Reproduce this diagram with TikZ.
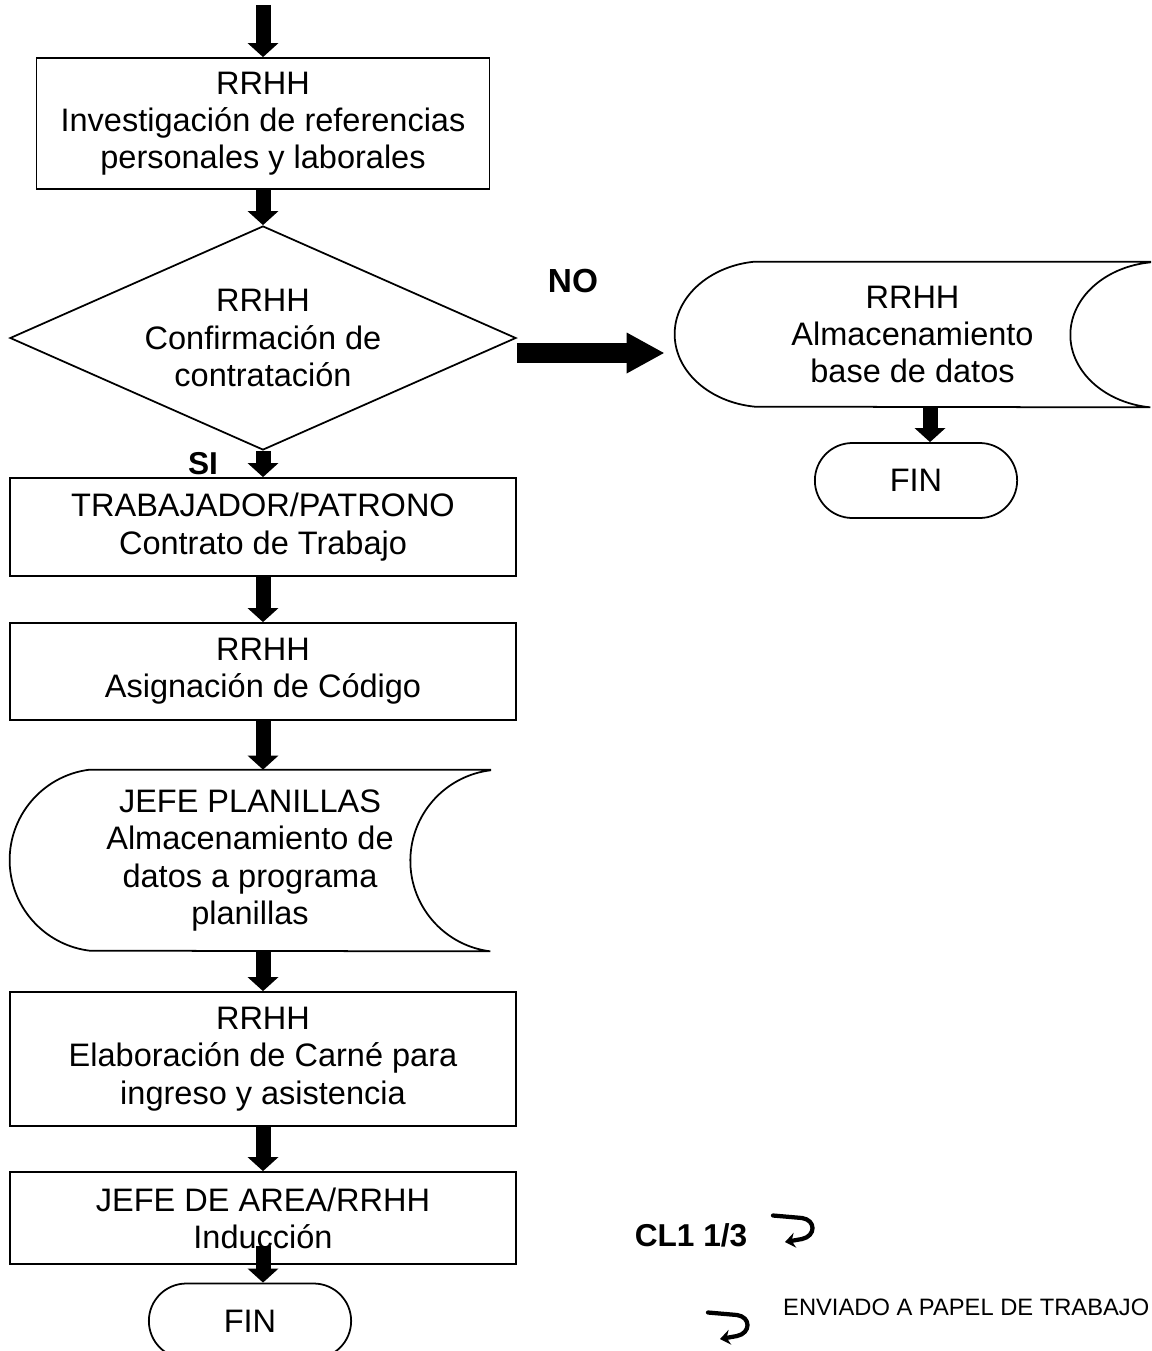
\documentclass[tikz,border=0pt]{standalone}
\usepackage{fontspec}
\setmainfont{Liberation Sans}
\usetikzlibrary{shapes.geometric,shapes.misc,arrows.meta,positioning,calc}

\tikzset{
  process/.style={draw, line width=1pt, align=center, minimum width=10.12cm, inner sep=0pt},
  decision/.style={draw, diamond, line width=1pt, aspect=2.26, align=center, inner sep=0pt,
    minimum width=10.12cm, minimum height=4.48cm},
  storage/.style={align=center, inner sep=0pt},
  terminal/.style={draw, rounded rectangle, line width=1pt, minimum width=4.28cm, minimum height=1.5cm},
  flow/.style={line width=0.3cm, -{Triangle[width=0.6cm,length=0.28cm]}},
  bigflow/.style={line width=0.4cm, -{Triangle[width=0.76cm,length=0.76cm]}},
  boldlabel/.style={font=\bfseries\fontsize{19}{23}\selectfont},
  sendmark/.pic={
    \draw[line width=0.085cm, line cap=round, -{Stealth[length=0.2cm,width=0.3cm]}]
      (0,-0.05) -- (0.58,-0.1) .. controls (0.86,-0.14) and (0.86,-0.46) .. (0.58,-0.52) -- (0.24,-0.58);
  }
}

% #1 nodo, #2 ancho de la curva, #3 radio x, #4 radio y
\newcommand{\drawstorage}[4]{%
  \draw[line width=1pt] (#1.north east) -- ([xshift=#2]#1.north west)
    arc[start angle=97, end angle=263, x radius=#3, y radius=#4] -- (#1.south east)
    arc[start angle=263, end angle=97, x radius=#3, y radius=#4] -- cycle;}

\begin{document}
\begin{tikzpicture}[every node/.style={font=\fontsize{18.5}{21.2}\selectfont}]
    \useasboundingbox (0,0) rectangle (23.02,-27.02);

    % Flujo principal
    \coordinate (start) at (5.26,-0.1);
    \node[process, minimum width=9.06cm, minimum height=2.62cm] (inv) at (5.26,-2.47) {RRHH\\Investigación de referencias\\personales y laborales};
    \node[decision] (conf) at (5.26,-6.76) {RRHH\\Confirmación de\\contratación};
    \node[process, minimum height=1.96cm] (contrato) at (5.26,-10.54) {TRABAJADOR/PATRONO\\Contrato de Trabajo};
    \node[process, minimum height=1.94cm] (codigo) at (5.26,-13.43) {RRHH\\Asignación de Código};
    \node[storage, minimum width=9.6cm, minimum height=3.62cm] (planillas) at (5.0,-17.21) {JEFE PLANILLAS\\Almacenamiento de\\datos a programa\\planillas};
    \node[process, minimum height=2.68cm] (carne) at (5.26,-21.18) {RRHH\\Elaboración de Carné para\\ingreso y asistencia};
    \node[process, minimum height=1.84cm] (induccion) at (5.26,-24.36) {JEFE DE AREA/RRHH\\Inducción};
    \node[terminal] (fin1) at (5.0,-26.42) {FIN};

    % Rama NO
    \node[storage, minimum width=9.5cm, minimum height=2.9cm] (almacen) at (18.25,-6.69) {RRHH\\Almacenamiento\\base de datos};
    \node[terminal] (fin2) at (18.32,-9.61) {FIN};

    \drawstorage{planillas}{1.6cm}{1.822cm}{1.824cm}
    \drawstorage{almacen}{1.6cm}{1.822cm}{1.461cm}

    % Etiquetas
    \node[boldlabel] (no) at (11.46,-5.62) {NO};
    \node[boldlabel, font=\bfseries\fontsize{18}{21}\selectfont] (si) at (4.06,-9.28) {SI};
    \node[boldlabel, font=\bfseries\fontsize{18}{21}\selectfont] (cl) at (13.82,-24.7) {CL1 1/3};
    \node[anchor=west, font=\fontsize{13.5}{16}\selectfont] (enviado) at (15.54,-26.15) {ENVIADO A PAPEL DE TRABAJO};
    \pic at (15.46,-24.26) {sendmark};
    \pic at (14.16,-26.2) {sendmark};

    % Flechas
    \draw[flow] (start) -- (start |- inv.north);
    \draw[flow] (inv.south) -- (conf.north);
    \draw[flow] (conf.south) -- (contrato.north);
    \draw[flow] (contrato) -- (codigo);
    \draw[flow] (codigo.south) -- (codigo.south |- planillas.north);
    \draw[flow] (codigo.south |- planillas.south) -- (carne.north);
    \draw[flow] (carne) -- (induccion);
    \draw[flow] ([yshift=0.38cm]induccion.south) -- (induccion.south |- fin1.north);
    \coordinate (nostart) at ([yshift=-0.3cm]conf.east);
    \draw[bigflow, shorten >=0.2cm] (nostart) -- (nostart -| almacen.west);
    \coordinate (dbout) at ([xshift=0.35cm]almacen.south);
    \draw[flow] (dbout) -- (dbout |- fin2.north);
\end{tikzpicture}
\end{document}
